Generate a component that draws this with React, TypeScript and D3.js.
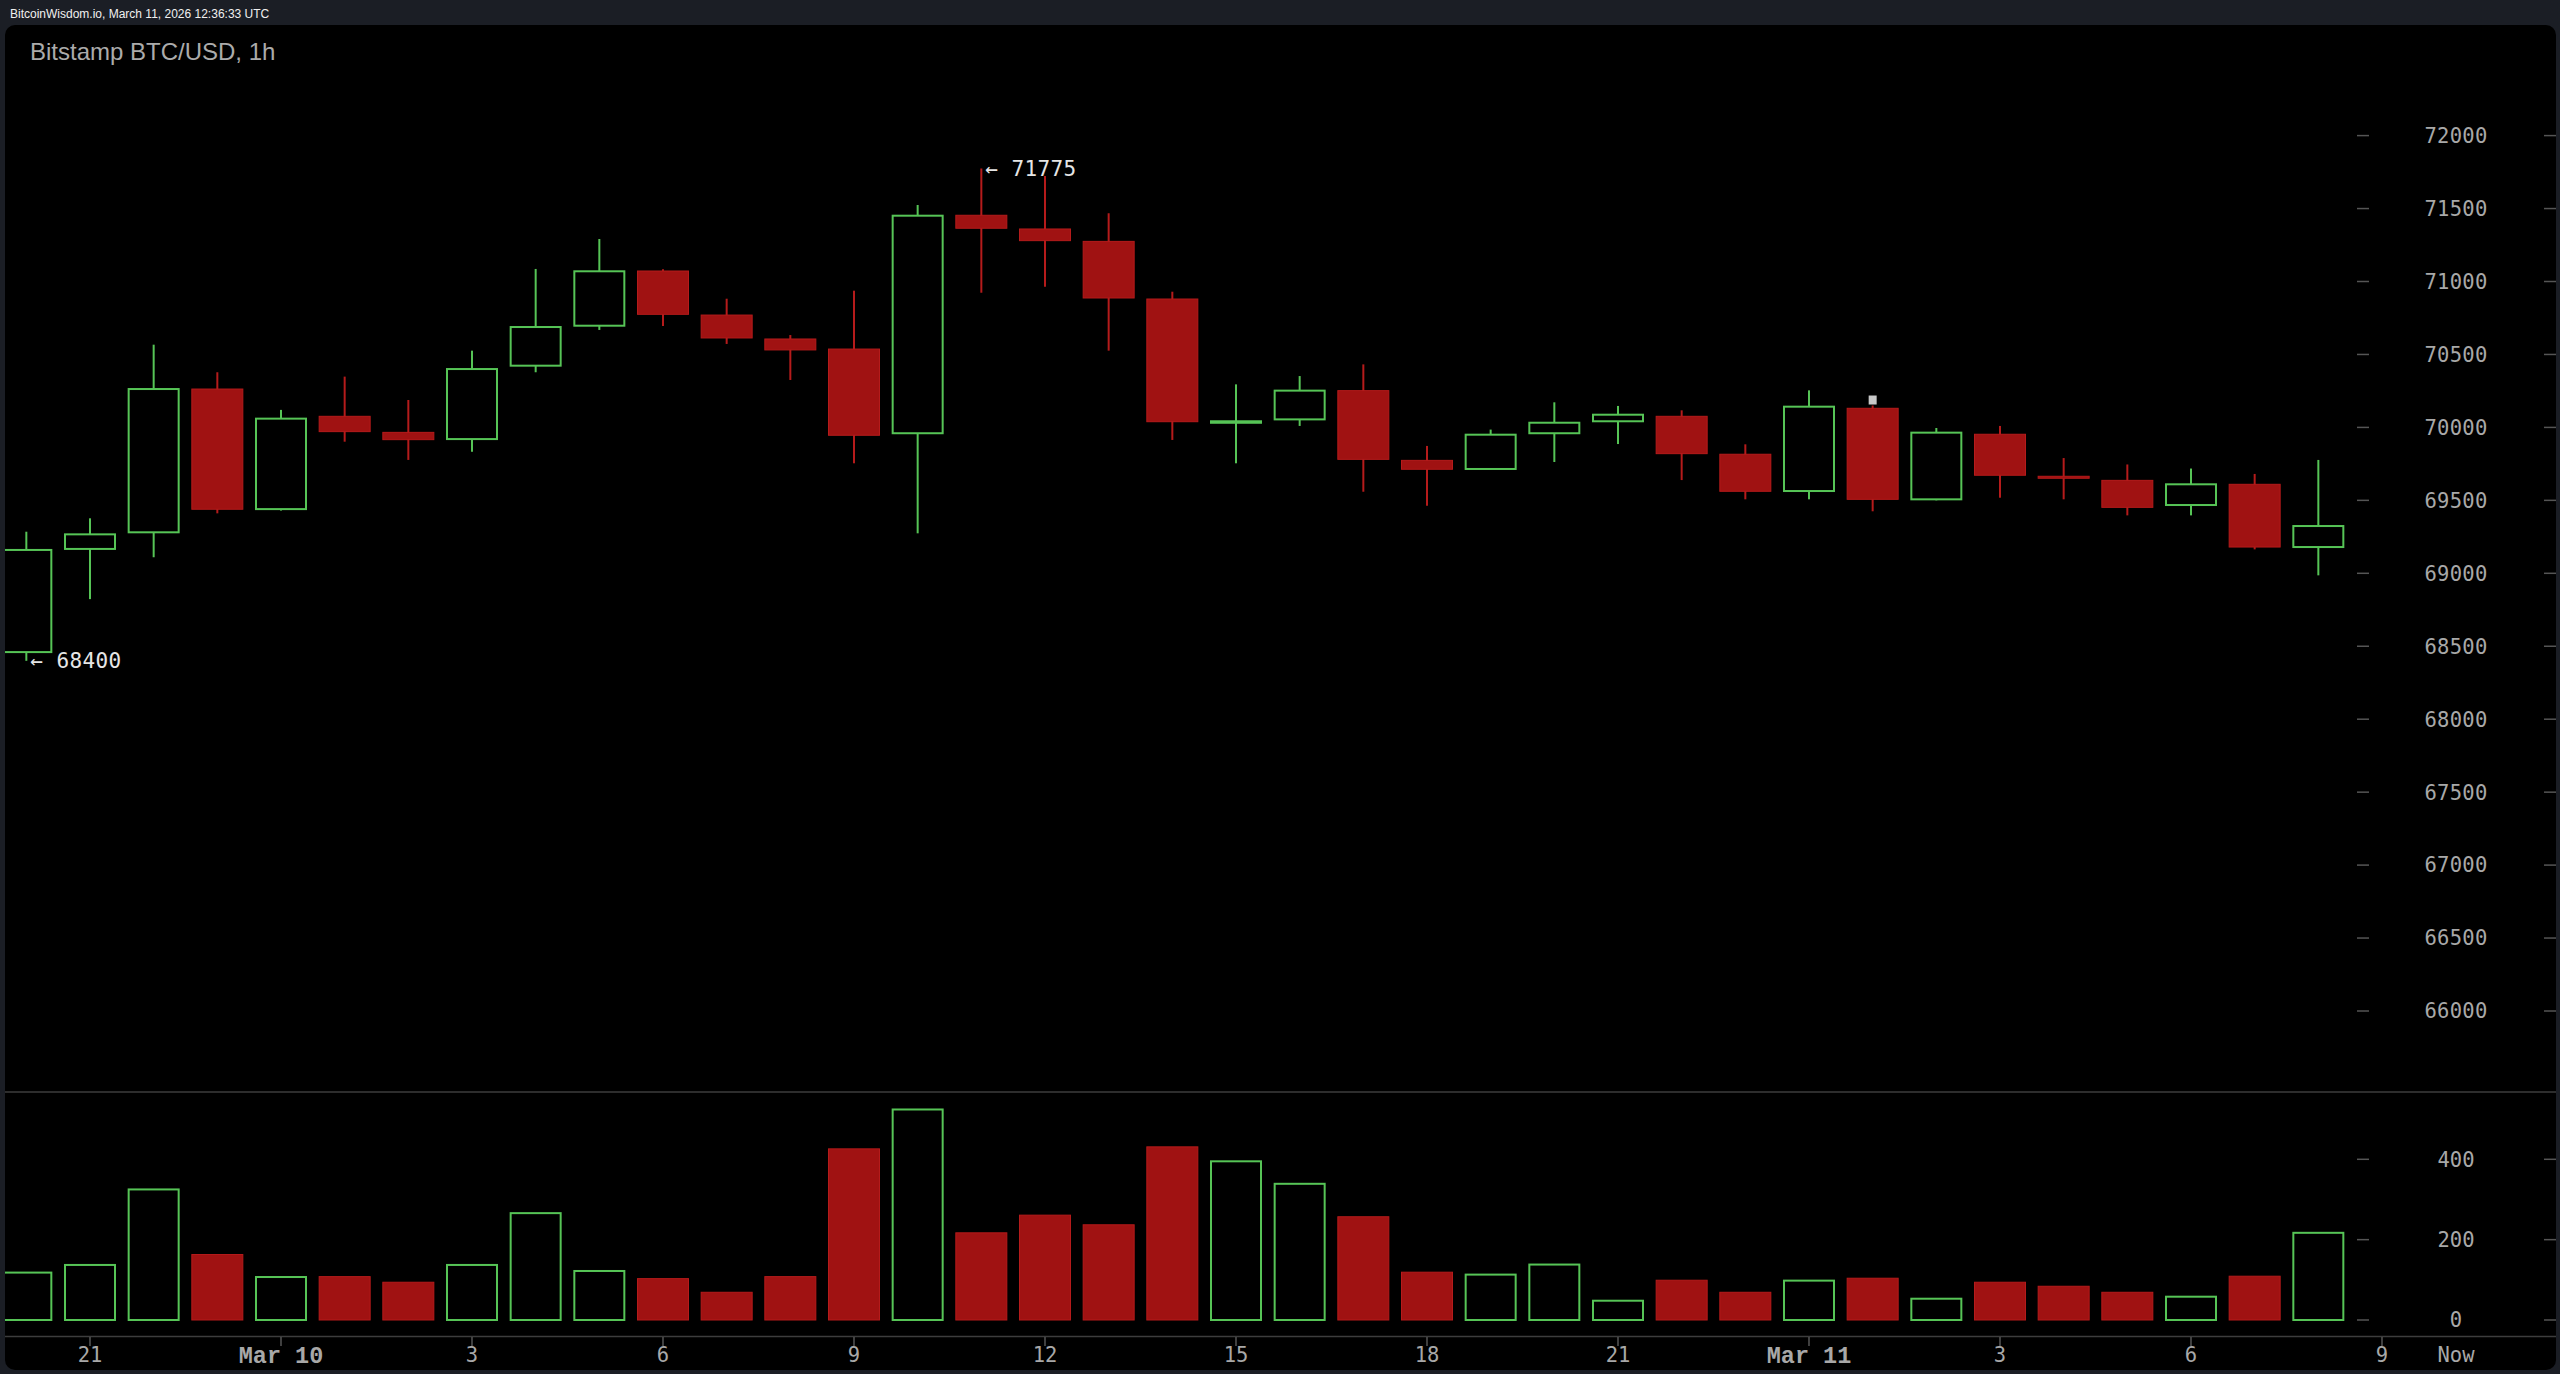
import React from "react";
import * as d3 from "d3";

const opens = [68460, 69167, 69281, 70263, 69440, 70076, 69966, 69920, 70423, 70697, 71072, 70770, 70606, 70537, 69960, 71454, 71360, 71275, 70880, 70032, 70055, 70252, 69774, 69715, 69960, 70042, 70076, 69816, 69564, 70131, 69507, 69953, 69665, 69637, 69468, 69610, 69180];
const highs = [69285, 69377, 70567, 70378, 70120, 70348, 70188, 70526, 71086, 71291, 71084, 70882, 70633, 70937, 71524, 71775, 71723, 71467, 70930, 70295, 70352, 70432, 69873, 69985, 70172, 70147, 70117, 69884, 70254, 70150, 69996, 70010, 69790, 69746, 69718, 69681, 69777];
const lows = [68400, 68823, 69110, 69411, 69430, 69902, 69777, 69833, 70378, 70668, 70695, 70572, 70325, 69754, 69274, 70923, 70964, 70526, 69914, 69754, 70010, 69559, 69463, 69710, 69763, 69886, 69639, 69507, 69507, 69425, 69500, 69518, 69507, 69397, 69397, 69164, 68986];
const closes = [69160, 69267, 70263, 69439, 70060, 69971, 69916, 70400, 70688, 71070, 70775, 70613, 70531, 69946, 71451, 71365, 71280, 70887, 70039, 70042, 70252, 69781, 69713, 69950, 70032, 70087, 69820, 69562, 70142, 69507, 69964, 69672, 69660, 69452, 69610, 69180, 69324];
const volumes = [118, 137, 325, 163, 107, 108, 94, 137, 266, 122, 103, 69, 108, 426, 524, 217, 261, 237, 431, 395, 339, 257, 119, 113, 138, 48, 99, 69, 98, 104, 53, 94, 84, 69, 58, 109, 217];

const xTickLabels = ["21", "Mar 10", "3", "6", "9", "12", "15", "18", "21", "Mar 11", "3", "6", "9"];
const xTickIndex = [1, 4, 7, 10, 13, 16, 19, 22, 25, 28, 31, 34, 37];
const priceTicks = [66000, 66500, 67000, 67500, 68000, 68500, 69000, 69500, 70000, 70500, 71000, 71500, 72000];
const volumeTicks = [0, 200, 400];

const GREEN = "#56c456";
const RED_FILL = "#a01212";
const RED_STROKE = "#b51b1b";
const MONO = "'DejaVu Sans Mono', monospace";
const SANS = "'Liberation Sans', Arial, sans-serif";

export default function App() {
  const W = 2560, H = 1374;
  const x = d3.scaleLinear().domain([0, 36]).range([26.33, 2318.33]);
  const y = d3.scaleLinear().domain([66000, 72000]).range([1011, 135.6]);
  const yv = d3.scaleLinear().domain([0, 400]).range([1320, 1159.3]);
  const bw = 52;
  const hiIdx = d3.maxIndex(highs);
  const loIdx = d3.minIndex(lows);

  return (
    <svg width={W} height={H} style={{ position: "absolute", left: 0, top: 0, display: "block" }}>
      <defs>
        <clipPath id="panel">
          <rect x={5} y={25} width={2551} height={1345} rx={10} />
        </clipPath>
      </defs>
      <rect x={0} y={0} width={W} height={H} fill="#1b1e25" />
      <text x={10} y={17.5} fill="#f0f0f0" fontFamily={SANS} fontSize={12}>
        BitcoinWisdom.io, March 11, 2026 12:36:33 UTC
      </text>
      <rect x={5} y={25} width={2551} height={1345} rx={10} fill="#000" />
      <text x={30} y={60} fill="#ababab" fontFamily={SANS} fontSize={24}>
        Bitstamp BTC/USD, 1h
      </text>

      {/* separators */}
      <line x1={5} x2={2556} y1={1092} y2={1092} stroke="#3d3d3d" strokeWidth={1.5} />
      <line x1={5} x2={2556} y1={1336.5} y2={1336.5} stroke="#3d3d3d" strokeWidth={1.5} />

      {/* price axis */}
      {priceTicks.map((t) => (
        <g key={"p" + t}>
          <line x1={2357} x2={2369} y1={y(t)} y2={y(t)} stroke="#555" strokeWidth={1.5} />
          <line x1={2544} x2={2556} y1={y(t)} y2={y(t)} stroke="#555" strokeWidth={1.5} />
          <text x={2456} y={y(t)} dy="0.36em" textAnchor="middle" fill="#a8a8a8" fontFamily={MONO} fontSize={20.5} letterSpacing={0.3}>
            {t}
          </text>
        </g>
      ))}
      {volumeTicks.map((t) => (
        <g key={"v" + t}>
          <line x1={2357} x2={2369} y1={yv(t)} y2={yv(t)} stroke="#555" strokeWidth={1.5} />
          <line x1={2544} x2={2556} y1={yv(t)} y2={yv(t)} stroke="#555" strokeWidth={1.5} />
          <text x={2456} y={yv(t)} dy="0.36em" textAnchor="middle" fill="#a8a8a8" fontFamily={MONO} fontSize={20.5}>
            {t}
          </text>
        </g>
      ))}

      {/* x axis */}
      {xTickIndex.map((ti, k) => {
        const lab = xTickLabels[k];
        const bold = lab.startsWith("Mar");
        return (
          <g key={"x" + k}>
            <line x1={x(ti)} x2={x(ti)} y1={1337} y2={1346} stroke="#555" strokeWidth={1.5} />
            <text
              x={x(ti)}
              y={1355}
              dy="0.36em"
              textAnchor="middle"
              fill="#a8a8a8"
              fontFamily={bold ? "'Liberation Mono', 'Courier New', monospace" : MONO}
              fontWeight={bold ? "bold" : "normal"}
              fontSize={bold ? 23.5 : 20.5}
            >
              {lab}
            </text>
          </g>
        );
      })}
      <text x={2456} y={1355} dy="0.36em" textAnchor="middle" fill="#a8a8a8" fontFamily={MONO} fontSize={20.5}>
        Now
      </text>

      <g clipPath="url(#panel)">
        {/* volume bars */}
        {volumes.map((v, i) => {
          const up = closes[i] >= opens[i];
          const x0 = x(i) - bw / 2;
          if (up) {
            return (
              <rect key={"vb" + i} x={x0 + 1} y={yv(v)} width={bw - 2} height={yv(0) - yv(v)} fill="none" stroke={GREEN} strokeWidth={2} />
            );
          }
          return (
            <rect key={"vb" + i} x={x0 + 0.5} y={yv(v)} width={bw - 1} height={yv(0) - yv(v)} fill={RED_FILL} stroke={RED_STROKE} strokeWidth={1} />
          );
        })}

        {/* candles */}
        {opens.map((o, i) => {
          const c = closes[i];
          const up = c >= o;
          const cx = x(i);
          const top = y(Math.max(o, c));
          const bot = y(Math.min(o, c));
          const x0 = cx - bw / 2;
          if (up) {
            return (
              <g key={"c" + i}>
                <line x1={cx} x2={cx} y1={y(highs[i])} y2={top} stroke={GREEN} strokeWidth={2} />
                <line x1={cx} x2={cx} y1={bot} y2={y(lows[i])} stroke={GREEN} strokeWidth={2} />
                <rect x={x0 + 1} y={top} width={bw - 2} height={Math.max(bot - top, 1.5)} fill={bot - top < 3 ? GREEN : "none"} stroke={GREEN} strokeWidth={2} />
              </g>
            );
          }
          return (
            <g key={"c" + i}>
              <line x1={cx} x2={cx} y1={y(highs[i])} y2={y(lows[i])} stroke={RED_STROKE} strokeWidth={2} />
              <rect x={x0 + 0.5} y={top} width={bw - 1} height={Math.max(bot - top, 2)} fill={RED_FILL} stroke={RED_STROKE} strokeWidth={1} />
            </g>
          );
        })}

        {/* marker above candle */}
        <rect x={x(29) - 4} y={y(highs[29]) - 10} width={8} height={9} fill="#c8c8c8" />
      </g>

      {/* high / low labels */}
      <text x={x(hiIdx) + 4} y={y(highs[hiIdx])} dy="0.36em" fill="#e6e6e6" fontFamily={MONO} fontSize={21} letterSpacing={0.4}>
        {"\u2190 " + highs[hiIdx]}
      </text>
      <text x={x(loIdx) + 4} y={y(lows[loIdx])} dy="0.36em" fill="#e6e6e6" fontFamily={MONO} fontSize={21} letterSpacing={0.4}>
        {"\u2190 " + lows[loIdx]}
      </text>
    </svg>
  );
}
